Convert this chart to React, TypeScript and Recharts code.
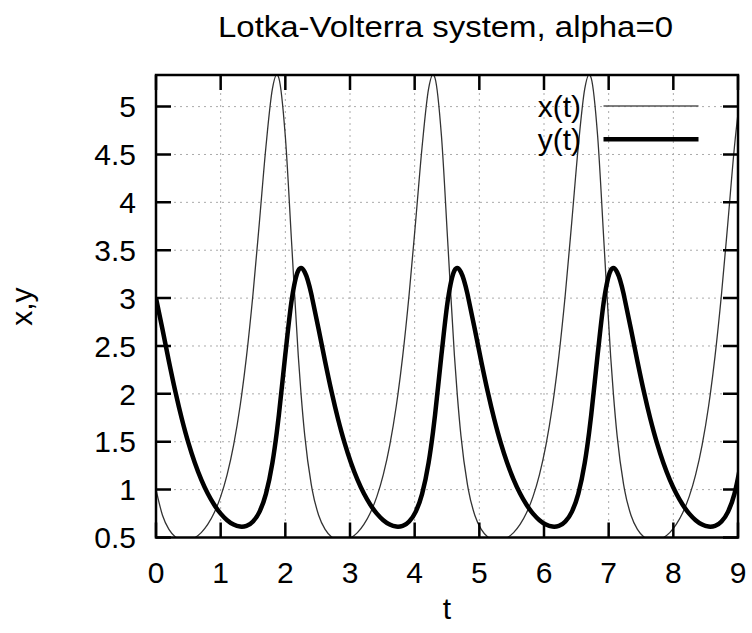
import React from 'react';
import { LineChart, Line, XAxis, YAxis, CartesianGrid } from 'recharts';

// time samples (t)
const tValues = [
  0, 0.1, 0.2, 0.3, 0.4, 0.4535, 0.5, 0.6, 0.7, 0.8, 0.9, 1.0, 1.1, 1.2, 1.3, 1.327, 1.4, 1.5, 1.6, 1.7, 1.8, 1.868, 1.9, 2.0, 2.1, 2.2, 2.243, 2.3, 2.4,
  2.415, 2.515, 2.615, 2.715, 2.815, 2.8685, 2.915, 3.015, 3.115, 3.215, 3.315, 3.415, 3.515, 3.615, 3.715, 3.742, 3.815, 3.915, 4.015, 4.115, 4.215, 4.283, 4.315, 4.415, 4.515, 4.615, 4.658, 4.715, 4.815,
  4.83, 4.93, 5.03, 5.13, 5.23, 5.2835, 5.33, 5.43, 5.53, 5.63, 5.73, 5.83, 5.93, 6.03, 6.13, 6.157, 6.23, 6.33, 6.43, 6.53, 6.63, 6.698, 6.73, 6.83, 6.93, 7.03, 7.073, 7.13, 7.23,
  7.245, 7.345, 7.445, 7.545, 7.645, 7.6985, 7.745, 7.845, 7.945, 8.045, 8.145, 8.245, 8.345, 8.445, 8.545, 8.572, 8.645, 8.745, 8.845, 8.945, 9.045,
];

// x(t) values (thin curve)
const xValues = [
  1.0, 0.733, 0.585, 0.506, 0.473, 0.468, 0.471, 0.498, 0.551, 0.636, 0.758, 0.927, 1.157, 1.465, 1.871, 2.0, 2.394, 3.043, 3.8, 4.581, 5.185, 5.334, 5.298, 4.687, 3.546, 2.398, 2.0, 1.567, 1.058,
  1.0, 0.733, 0.585, 0.506, 0.473, 0.468, 0.471, 0.498, 0.551, 0.636, 0.758, 0.927, 1.157, 1.465, 1.871, 2.0, 2.394, 3.043, 3.8, 4.581, 5.185, 5.334, 5.298, 4.687, 3.546, 2.398, 2.0, 1.567, 1.058,
  1.0, 0.733, 0.585, 0.506, 0.473, 0.468, 0.471, 0.498, 0.551, 0.636, 0.758, 0.927, 1.157, 1.465, 1.871, 2.0, 2.394, 3.043, 3.8, 4.581, 5.185, 5.334, 5.298, 4.687, 3.546, 2.398, 2.0, 1.567, 1.058,
  1.0, 0.733, 0.585, 0.506, 0.473, 0.468, 0.471, 0.498, 0.551, 0.636, 0.758, 0.927, 1.157, 1.465, 1.871, 2.0, 2.394, 3.043, 3.8, 4.581, 5.185,
];

// y(t) values (thick curve)
const yValues = [
  3.0, 2.675, 2.338, 2.021, 1.737, 1.6, 1.49, 1.28, 1.104, 0.959, 0.842, 0.749, 0.681, 0.635, 0.614, 0.613, 0.621, 0.667, 0.768, 0.956, 1.279, 1.6, 1.779, 2.413, 2.988, 3.287, 3.314, 3.271, 3.047,
  3.0, 2.675, 2.338, 2.021, 1.737, 1.6, 1.49, 1.28, 1.104, 0.959, 0.842, 0.749, 0.681, 0.635, 0.614, 0.613, 0.621, 0.667, 0.768, 0.956, 1.279, 1.6, 1.779, 2.413, 2.988, 3.287, 3.314, 3.271, 3.047,
  3.0, 2.675, 2.338, 2.021, 1.737, 1.6, 1.49, 1.28, 1.104, 0.959, 0.842, 0.749, 0.681, 0.635, 0.614, 0.613, 0.621, 0.667, 0.768, 0.956, 1.279, 1.6, 1.779, 2.413, 2.988, 3.287, 3.314, 3.271, 3.047,
  3.0, 2.675, 2.338, 2.021, 1.737, 1.6, 1.49, 1.28, 1.104, 0.959, 0.842, 0.749, 0.681, 0.635, 0.614, 0.613, 0.621, 0.667, 0.768, 0.956, 1.279,
];

const xTicks = [0, 1, 2, 3, 4, 5, 6, 7, 8, 9];
const yTicks = [0.5, 1, 1.5, 2, 2.5, 3, 3.5, 4, 4.5, 5];
const X_DOMAIN: [number, number] = [0, 9];
const Y_DOMAIN: [number, number] = [0.5, 5.33];
const titleText = 'Lotka-Volterra system, alpha=0';
const xLabel = 't';
const yLabel = 'x,y';
const seriesNames = ['x(t)', 'y(t)'];

const data = tValues.map((t, i) => ({ t, x: xValues[i], y: yValues[i] }));

// layout
const CHART_W = 752;
const CHART_H = 633;
const MARGIN = { top: 75, right: 14, bottom: 55, left: 96 };
const Y_AXIS_W = 60;
const X_AXIS_H = 40.5;
const PLOT_L = 156;
const PLOT_T = 75;
const PLOT_R = 738;
const PLOT_B = 537.5;
const TICK_LEN = 15;

const px = (v: number) => PLOT_L + ((v - X_DOMAIN[0]) / (X_DOMAIN[1] - X_DOMAIN[0])) * (PLOT_R - PLOT_L);
const py = (v: number) => PLOT_B - ((v - Y_DOMAIN[0]) / (Y_DOMAIN[1] - Y_DOMAIN[0])) * (PLOT_B - PLOT_T);

const FONT = '"Liberation Sans", Arial, Helvetica, sans-serif';
const tickStyle = { fontSize: 30, fill: '#000', fontFamily: FONT };

const tickPath =
  xTicks.map((v) => `M ${px(v)} ${PLOT_B} L ${px(v)} ${PLOT_B - TICK_LEN} M ${px(v)} ${PLOT_T} L ${px(v)} ${PLOT_T + TICK_LEN}`).join(' ') +
  ' ' +
  yTicks.map((v) => `M ${PLOT_L} ${py(v)} L ${PLOT_L + TICK_LEN} ${py(v)} M ${PLOT_R} ${py(v)} L ${PLOT_R - TICK_LEN} ${py(v)}`).join(' ');

const Overlay = () => (
  <svg width={CHART_W} height={CHART_H} style={{ position: 'absolute', left: 0, top: 0 }}>
    <path d={tickPath} stroke="#000" strokeWidth={2.5} fill="none" />
    <rect x={PLOT_L} y={PLOT_T} width={PLOT_R - PLOT_L} height={PLOT_B - PLOT_T} fill="none" stroke="#000" strokeWidth={2.5} />
    <text x={445.5} y={37} fontSize={30} fontFamily={FONT} fill="#000" textAnchor="middle" textLength={455} lengthAdjust="spacingAndGlyphs">{titleText}</text>
    <text x={447} y={619} fontSize={30} fontFamily={FONT} fill="#000" textAnchor="middle">{xLabel}</text>
    <text transform="translate(31.5,306.7) rotate(-90)" fontSize={30} fontFamily={FONT} fill="#000" textAnchor="middle">{yLabel}</text>
    <text x={581} y={116.5} fontSize={30} fontFamily={FONT} fill="#000" textAnchor="end">{seriesNames[0]}</text>
    <line x1={603.5} x2={698.5} y1={106} y2={106} stroke="#555" strokeWidth={1.3} />
    <text x={581} y={150} fontSize={30} fontFamily={FONT} fill="#000" textAnchor="end">{seriesNames[1]}</text>
    <line x1={603.5} x2={698.5} y1={139.3} y2={139.3} stroke="#000" strokeWidth={4.5} />
  </svg>
);

export default function App() {
  return (
    <div style={{ position: 'absolute', left: 0, top: 0, width: CHART_W, height: CHART_H, background: '#fff' }}>
      <LineChart width={CHART_W} height={CHART_H} data={data} margin={MARGIN}>
        <CartesianGrid stroke="#aaa" strokeDasharray="2 4" strokeWidth={1} />
        <XAxis
          dataKey="t"
          type="number"
          domain={X_DOMAIN}
          ticks={xTicks}
          interval={0}
          allowDataOverflow
          height={X_AXIS_H}
          tickSize={-15}
          tickMargin={39.2}
          tick={tickStyle}
          axisLine={false}
          tickLine={false}
        />
        <YAxis
          type="number"
          domain={Y_DOMAIN}
          ticks={yTicks}
          interval={0}
          allowDataOverflow
          width={Y_AXIS_W}
          tickSize={-15}
          tickMargin={35}
          tick={tickStyle}
          axisLine={false}
          tickLine={false}
        />
        <Line dataKey="x" type="monotone" stroke="#333" strokeWidth={1.3} dot={false} isAnimationActive={false} />
        <Line dataKey="y" type="monotone" stroke="#000" strokeWidth={4.5} dot={false} isAnimationActive={false} />
      </LineChart>
      <Overlay />
    </div>
  );
}
